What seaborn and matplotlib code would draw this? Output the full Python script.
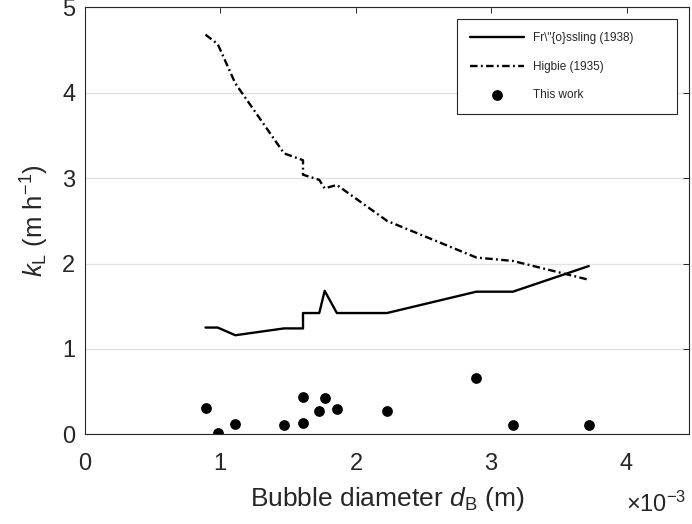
import matplotlib
matplotlib.use("Agg")
import matplotlib.pyplot as plt
import matplotlib.ticker as mticker
import numpy as np
import pandas as pd
import seaborn as sns

# Bubble diameters (m) and mass-transfer coefficients k_L (m/h)
diameter = np.array([0.89, 0.98, 1.11, 1.47, 1.61, 1.61, 1.73, 1.77, 1.86,
                     2.23, 2.89, 3.16, 3.72]) * 1e-3
kl_frossling = [1.25, 1.25, 1.16, 1.24, 1.24, 1.42, 1.42, 1.68, 1.42,
                1.42, 1.67, 1.67, 1.97]
kl_higbie = [4.68, 4.57, 4.11, 3.29, 3.21, 3.04, 2.98, 2.88, 2.92,
             2.50, 2.07, 2.03, 1.81]
kl_measured = [0.31, 0.02, 0.12, 0.105, 0.44, 0.13, 0.27, 0.43, 0.30,
               0.27, 0.66, 0.105, 0.105]

label_frossling = 'Fr\\"{o}ssling (1938)'
label_higbie = "Higbie (1935)"
label_measured = "This work"

x_ticks = np.arange(0, 5) * 1e-3
y_ticks = np.arange(0, 6)
x_scale_text = r"$\times10^{-3}$"

df = pd.DataFrame({"d": diameter, "fro": kl_frossling,
                   "hig": kl_higbie, "exp": kl_measured})

sns.set_style("white")
plt.rcParams["font.family"] = ["Liberation Sans", "DejaVu Sans"]
plt.rcParams["mathtext.fontset"] = "custom"
plt.rcParams["mathtext.rm"] = "Liberation Sans"
plt.rcParams["mathtext.it"] = "Liberation Sans:italic"
plt.rcParams["axes.unicode_minus"] = False

fig = plt.figure(figsize=(6.92, 5.24), dpi=100)
ax = fig.add_axes([0.1228, 0.1712, 0.8728, 0.8148])

sns.lineplot(data=df, x="d", y="fro", ax=ax, color="black", lw=1.7,
             estimator=None, sort=False, label=label_frossling)
sns.lineplot(data=df, x="d", y="hig", ax=ax, color="black", lw=1.7,
             estimator=None, sort=False, label=label_higbie,
             linestyle=(0, (3.2, 1.4, 0.8, 1.4)))
sns.scatterplot(data=df, x="d", y="exp", ax=ax, color="black", s=60,
                edgecolor="black", linewidth=0, label=label_measured)

ax.set_xlim(0, 4.46e-3)
ax.set_ylim(0, 5)
ax.set_xticks(x_ticks)
ax.set_yticks(y_ticks)

# tick labels in units of 1e-3 m; the multiplier is written separately
fmt = mticker.ScalarFormatter(useMathText=True)
fmt.set_powerlimits((-2, 2))
ax.xaxis.set_major_formatter(fmt)
ax.xaxis.get_offset_text().set_visible(False)
fig.text(0.9913, 0.0229, x_scale_text, ha="right", va="baseline",
         fontsize=17, color="#262626")

ax.yaxis.grid(True, color="#e3e3e3", lw=1.0)
ax.xaxis.grid(False)
ax.set_axisbelow(True)

for side in ["left", "right", "top", "bottom"]:
    ax.spines[side].set_visible(True)
    ax.spines[side].set_color("#262626")
    ax.spines[side].set_linewidth(0.8)

ax.tick_params(axis="both", which="major", direction="in", length=4.5,
               width=0.7, color="#262626", labelsize=17,
               labelcolor="#262626", top=True, right=True)
ax.tick_params(axis="x", pad=13.5)
ax.tick_params(axis="y", pad=7)

ax.set_xlabel(r"Bubble diameter $d_\mathrm{B}$ (m)", fontsize=19,
              color="#262626", labelpad=7)
ax.set_ylabel(r"$k_\mathrm{L}$ (m h$^{-1}$)", fontsize=18.5,
              color="#262626", labelpad=8)

leg = ax.legend(loc="upper left", bbox_to_anchor=(0.616, 0.754, 0.364, 0.218),
                mode="expand", borderaxespad=0, fontsize=8.5,
                handlelength=4.6, handletextpad=0.7, labelspacing=1.4,
                borderpad=1.1, fancybox=False, frameon=True, scatterpoints=1)
leg.get_frame().set_edgecolor("#262626")
leg.get_frame().set_linewidth(0.8)
leg.get_frame().set_alpha(1)

fig.savefig("out.png", dpi=100)
